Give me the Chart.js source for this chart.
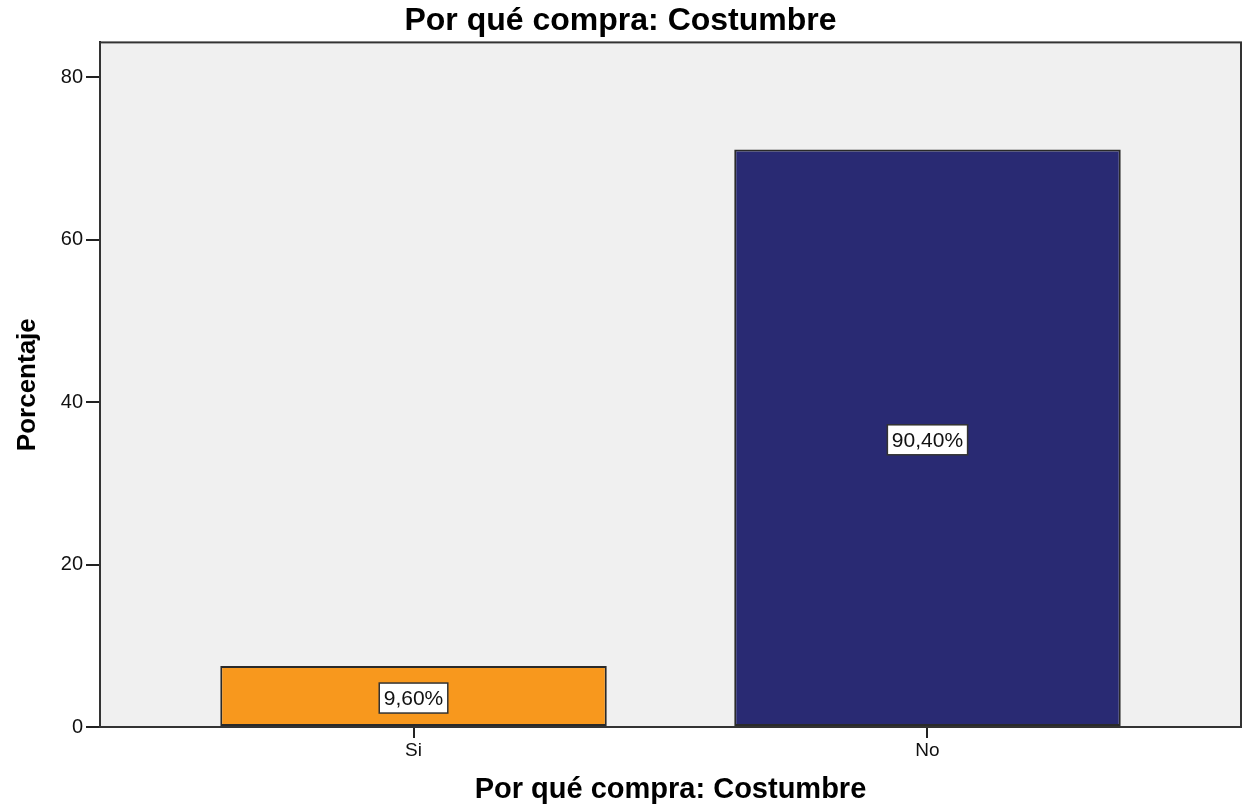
<!DOCTYPE html>
<html>
<head>
<meta charset="utf-8">
<title>Por qué compra: Costumbre</title>
<script src="https://cdn.jsdelivr.net/npm/chart.js@4/dist/chart.umd.min.js"></script>
<style>
  html, body { margin: 0; padding: 0; background: #fff; }
  canvas { display: block; }
</style>
</head>
<body>
<canvas id="myChart" width="1243" height="805"></canvas>
<script>
const categories = ['Si', 'No'];
const percentages = [7.5, 71.1];          // bar heights as drawn on the axis
const barLabels = ['9,60%', '90,40%'];    // labels printed inside the bars
const barColors = ['#f8981d', '#292a73'];
const yTicks = [0, 20, 40, 60, 80];

const FONT = '"Liberation Sans", Arial, sans-serif';

// grey plot background plus frame around it
const plotFrame = {
    id: 'plotFrame',
    beforeDraw(chart) {
        const {ctx, chartArea: a} = chart;
        ctx.save();
        ctx.fillStyle = '#f0f0f0';
        ctx.fillRect(a.left, a.top, a.right - a.left, a.bottom - a.top);
        ctx.restore();
    },
    beforeDatasetsDraw(chart) {
        const {ctx, chartArea: a} = chart;
        ctx.save();
        ctx.strokeStyle = '#333';
        ctx.lineWidth = 2;
        ctx.strokeRect(a.left, a.top, a.right - a.left, a.bottom - a.top);
        ctx.restore();
    }
};

// white boxed label in the middle of each bar
const boxLabels = {
    id: 'boxLabels',
    afterDatasetsDraw(chart) {
        const ctx = chart.ctx;
        const meta = chart.getDatasetMeta(0);
        ctx.save();
        ctx.font = '21px ' + FONT;
        ctx.textAlign = 'center';
        ctx.textBaseline = 'middle';
        meta.data.forEach((bar, i) => {
            const text = barLabels[i];
            const cx = bar.x;
            const cy = (bar.y + bar.base) / 2 + 2;
            const w = ctx.measureText(text).width + 9;
            const h = 30;
            ctx.fillStyle = '#fff';
            ctx.fillRect(cx - w / 2, cy - h / 2, w, h);
            ctx.strokeStyle = '#333';
            ctx.lineWidth = 1.5;
            ctx.strokeRect(cx - w / 2, cy - h / 2, w, h);
            ctx.fillStyle = '#111';
            ctx.fillText(text, cx, cy + 1);
        });
        ctx.restore();
    }
};

const ctx = document.getElementById('myChart').getContext('2d');

new Chart(ctx, {
    type: 'bar',
    data: {
        datasets: [{
            data: categories.map((c, i) => ({x: i, y: percentages[i]})),
            backgroundColor: barColors,
            borderColor: '#2a2a2a',
            borderWidth: 2,
            borderSkipped: false,
            categoryPercentage: 0.752,
            barPercentage: 1,
        }]
    },
    options: {
        responsive: false,
        animation: false,
        layout: { padding: { top: 0, right: 2, left: 0, bottom: 0 } },
        plugins: {
            legend: { display: false },
            tooltip: { enabled: false },
            title: {
                display: true,
                text: 'Por qué compra: Costumbre',
                color: '#000',
                font: { family: FONT, size: 32, weight: 'bold', lineHeight: 1.2 },
                padding: { top: 2, bottom: 2 },
            },
        },
        scales: {
            x: {
                type: 'linear',
                min: -0.61,
                max: 1.61,
                offset: false,
                afterBuildTicks: (scale) => {
                    scale.ticks = categories.map((c, i) => ({value: i}));
                },
                afterFit: (scale) => { scale.height = 78; },
                ticks: {
                    color: '#111',
                    padding: 1,
                    font: { family: FONT, size: 19 },
                    callback: (v) => categories[v],
                },
                grid: {
                    offset: false,
                    drawOnChartArea: false,
                    drawTicks: true,
                    tickLength: 11,
                    color: '#222',
                    lineWidth: 2,
                },
                border: { display: true, color: '#222', width: 2 },
                title: {
                    display: true,
                    text: 'Por qué compra: Costumbre',
                    color: '#000',
                    font: { family: FONT, size: 29, weight: 'bold', lineHeight: 1 },
                    padding: { top: 0, bottom: 1 },
                },
            },
            y: {
                min: 0,
                max: 84.3,
                afterBuildTicks: (scale) => {
                    scale.ticks = yTicks.map(v => ({value: v}));
                },
                afterFit: (scale) => { scale.width = 100; },
                ticks: {
                    color: '#111',
                    padding: 3,
                    font: { family: FONT, size: 20 },
                },
                grid: {
                    drawOnChartArea: false,
                    drawTicks: true,
                    tickLength: 14,
                    color: '#222',
                    lineWidth: 2,
                },
                border: { display: true, color: '#222', width: 2 },
                title: {
                    display: true,
                    text: 'Porcentaje',
                    color: '#000',
                    font: { family: FONT, size: 26, weight: 'bold', lineHeight: 1 },
                    padding: { top: 15, bottom: 0 },
                },
            },
        },
    },
    plugins: [plotFrame, boxLabels],
});
</script>
</body>
</html>
